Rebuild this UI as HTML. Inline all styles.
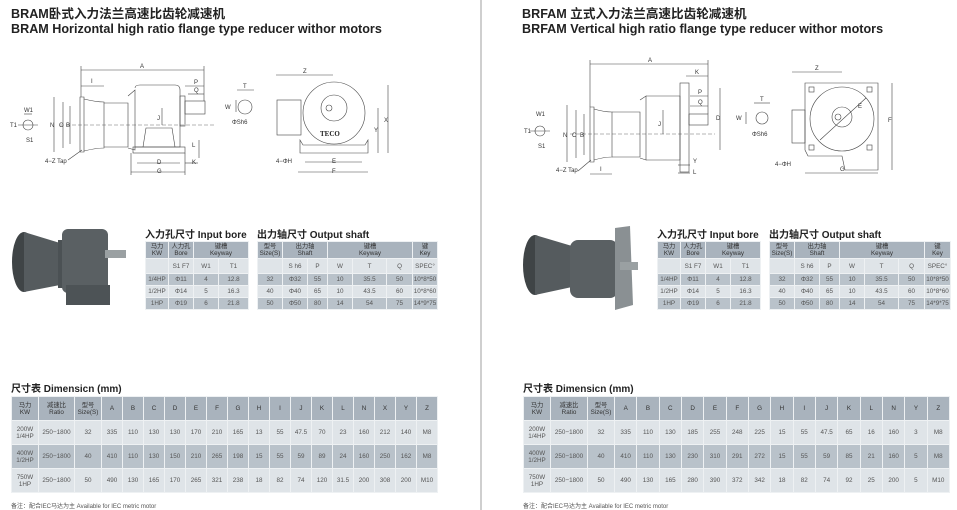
<!DOCTYPE html>
<html><head><meta charset="utf-8"><style>
*{margin:0;padding:0;box-sizing:border-box}
body{width:957px;height:510px;background:#fff;position:relative;overflow:hidden;font-family:"Liberation Sans","Noto Sans CJK SC",sans-serif;color:#333}
.t{position:absolute;font-weight:bold;font-size:12.6px;color:#222;white-space:nowrap;line-height:14px}
.h{position:absolute;font-weight:bold;font-size:10px;color:#222;white-space:nowrap}
.note{position:absolute;font-size:6px;color:#555;white-space:nowrap}
table{position:absolute;border-collapse:collapse;font-size:6.3px;color:#555;table-layout:fixed}
td{text-align:center;padding:0;line-height:7px;border:1px solid #eef1f3;overflow:hidden;white-space:nowrap}
tr.hd td{background:#a9b3bd;color:#333}
tr.lt td{background:#dfe4e8}
tr.dk td{background:#b9c2ca}
svg{position:absolute;left:0;top:0}
</style></head><body>
<div style="position:absolute;left:480px;top:0;width:2px;height:510px;background:#cfcfcf"></div>

<div class="t" style="left:11px;top:7px">BRAM卧式入力法兰高速比齿轮减速机</div>
<div class="t" style="left:11px;top:22px">BRAM Horizontal high ratio flange type reducer withor motors</div>
<div class="t" style="left:522px;top:7px">BRFAM 立式入力法兰高速比齿轮减速机</div>
<div class="t" style="left:522px;top:22px">BRFAM Vertical high ratio flange type reducer withor motors</div>

<svg width="957" height="510" viewBox="0 0 957 510" font-family="Liberation Sans, sans-serif" font-size="6" fill="none" stroke="#444" stroke-width="0.6">
<line x1="81" y1="70" x2="204" y2="70"/><line x1="81" y1="66" x2="81" y2="97"/><line x1="204" y1="66" x2="204" y2="101"/>
<text x="140" y="68" fill="#333" stroke="none">A</text>
<line x1="81" y1="86" x2="104" y2="86"/><text x="91" y="83" fill="#333" stroke="none">I</text>
<line x1="185" y1="86" x2="204" y2="86"/><text x="194" y="84" fill="#333" stroke="none">P</text>
<line x1="188" y1="94" x2="204" y2="94"/><text x="194" y="92" fill="#333" stroke="none">Q</text>
<path d="M80 97 L84 97 L84 152 L80 152 Z"/>
<path d="M84 99 Q96 102 104 102 L104 148 Q96 148 84 151"/>
<path d="M104 103 L128 103 L128 147 L104 147"/>
<path d="M128 96 L135 90 L135 150 L128 148"/>
<path d="M135 88 Q135 85 140 85 L175 85 Q180 85 180 90 L180 147 L135 147"/>
<rect x="180" y="96" width="5" height="30"/>
<rect x="185" y="101" width="20" height="13"/>
<path d="M143 147 L146 128 L172 128 L175 147"/>
<rect x="133" y="147" width="52" height="6"/>
<line x1="60" y1="125" x2="215" y2="125" stroke-dasharray="4 2" stroke-width="0.4"/>
<line x1="54" y1="97" x2="54" y2="152"/><text x="50" y="127" fill="#333" stroke="none">N</text>
<line x1="63" y1="102" x2="63" y2="148"/><text x="59" y="127" fill="#333" stroke="none">C</text>
<line x1="70" y1="106" x2="70" y2="144"/><text x="66" y="127" fill="#333" stroke="none">B</text>
<line x1="162" y1="108" x2="162" y2="125"/><text x="157" y="120" fill="#333" stroke="none">J</text>
<line x1="199" y1="140" x2="199" y2="158"/><text x="192" y="147" fill="#333" stroke="none">L</text>
<line x1="137" y1="163" x2="180" y2="163"/><text x="157" y="164" fill="#333" stroke="none">D</text>
<line x1="185" y1="163" x2="198" y2="163"/><text x="192" y="164" fill="#333" stroke="none">K</text>
<line x1="131" y1="172" x2="185" y2="172"/><text x="157" y="173" fill="#333" stroke="none">G</text>
<line x1="131" y1="153" x2="131" y2="175"/><line x1="185" y1="153" x2="185" y2="175"/>
<text x="45" y="163" fill="#333" stroke="none">4−Z Tap</text><line x1="68" y1="160" x2="82" y2="150"/>
<circle cx="28" cy="125" r="5"/><line x1="18" y1="125" x2="38" y2="125"/><line x1="24" y1="114" x2="32" y2="114"/>
<text x="24" y="112" fill="#333" stroke="none">W1</text><text x="26" y="142" fill="#333" stroke="none">S1</text><text x="10" y="127" fill="#333" stroke="none">T1</text>
<circle cx="245" cy="107" r="7"/><line x1="237" y1="90" x2="254" y2="90"/><text x="243" y="88" fill="#333" stroke="none">T</text>
<line x1="236" y1="100" x2="236" y2="112"/><text x="225" y="109" fill="#333" stroke="none">W</text>
<text x="232" y="124" fill="#333" stroke="none">ΦSh6</text>
<line x1="276" y1="75" x2="333" y2="75"/><text x="303" y="73" fill="#333" stroke="none">Z</text>
<rect x="277" y="100" width="24" height="35"/>
<circle cx="334" cy="113" r="31"/><circle cx="334" cy="108" r="13"/><circle cx="329" cy="108" r="3"/>
<path d="M300 140 L303 145 L365 145 L368 140 L368 153 L300 153 Z"/>
<text x="320" y="136" fill="#222" stroke="none" font-size="7" font-weight="bold" font-family="Liberation Serif,serif">TECO</text>
<line x1="388" y1="85" x2="388" y2="153"/><text x="384" y="122" fill="#333" stroke="none">X</text>
<line x1="378" y1="108" x2="378" y2="153"/><text x="374" y="132" fill="#333" stroke="none">Y</text>
<line x1="305" y1="162" x2="362" y2="162"/><text x="332" y="163" fill="#333" stroke="none">E</text>
<line x1="298" y1="172" x2="368" y2="172"/><text x="332" y="173" fill="#333" stroke="none">F</text>
<text x="276" y="163" fill="#333" stroke="none">4−ΦH</text>

<line x1="590" y1="64" x2="708" y2="64"/><line x1="590" y1="60" x2="590" y2="107"/><line x1="708" y1="60" x2="708" y2="114"/>
<text x="648" y="62" fill="#333" stroke="none">A</text>
<line x1="686" y1="76" x2="708" y2="76"/><text x="695" y="74" fill="#333" stroke="none">K</text>
<line x1="690" y1="96" x2="708" y2="96"/><text x="698" y="94" fill="#333" stroke="none">P</text>
<line x1="690" y1="106" x2="708" y2="106"/><text x="698" y="104" fill="#333" stroke="none">Q</text>
<path d="M590 107 L594 107 L594 162 L590 162 Z"/>
<path d="M594 109 Q604 112 612 112 L612 157 Q604 157 594 160"/>
<path d="M612 112 L640 112 L640 157 L612 157"/>
<path d="M640 100 L646 96 L646 160 L640 158"/>
<path d="M646 96 L680 96 L680 160 L646 160"/>
<rect x="680" y="83" width="9" height="89"/>
<rect x="689" y="114" width="19" height="11"/>
<line x1="570" y1="134" x2="715" y2="134" stroke-dasharray="4 2" stroke-width="0.4"/>
<line x1="720" y1="88" x2="720" y2="150"/><text x="716" y="120" fill="#333" stroke="none">D</text>
<line x1="663" y1="110" x2="663" y2="134"/><text x="658" y="126" fill="#333" stroke="none">J</text>
<line x1="567" y1="105" x2="567" y2="162"/><text x="563" y="137" fill="#333" stroke="none">N</text>
<line x1="576" y1="110" x2="576" y2="158"/><text x="572" y="137" fill="#333" stroke="none">C</text>
<line x1="584" y1="114" x2="584" y2="155"/><text x="580" y="137" fill="#333" stroke="none">B</text>
<line x1="590" y1="174" x2="612" y2="174"/><text x="600" y="171" fill="#333" stroke="none">I</text>
<line x1="678" y1="165" x2="690" y2="165"/><text x="693" y="163" fill="#333" stroke="none">Y</text>
<line x1="678" y1="173" x2="690" y2="173"/><text x="693" y="174" fill="#333" stroke="none">L</text>
<text x="556" y="172" fill="#333" stroke="none">4−Z Tap</text><line x1="578" y1="171" x2="591" y2="160"/>
<circle cx="540" cy="131" r="5"/><line x1="530" y1="131" x2="550" y2="131"/>
<text x="536" y="116" fill="#333" stroke="none">W1</text><text x="538" y="148" fill="#333" stroke="none">S1</text><text x="524" y="133" fill="#333" stroke="none">T1</text>
<circle cx="762" cy="118" r="6"/><line x1="754" y1="103" x2="770" y2="103"/><text x="760" y="101" fill="#333" stroke="none">T</text>
<line x1="746" y1="112" x2="746" y2="124"/><text x="736" y="120" fill="#333" stroke="none">W</text>
<text x="752" y="136" fill="#333" stroke="none">ΦSh6</text>
<line x1="792" y1="72" x2="842" y2="72"/><text x="815" y="70" fill="#333" stroke="none">Z</text>
<path d="M805 83 L878 83 L878 170 L845 170 L842 156 L808 156 L805 150 Z"/>
<rect x="792" y="110" width="13" height="33"/>
<circle cx="842" cy="119" r="32"/><circle cx="842" cy="117" r="10"/><circle cx="838" cy="117" r="3"/>
<line x1="820" y1="140" x2="866" y2="98"/><text x="858" y="108" fill="#333" stroke="none">E</text>
<rect x="809" y="87" width="5" height="5"/><rect x="867" y="87" width="5" height="5"/><rect x="809" y="145" width="5" height="5"/><rect x="867" y="145" width="5" height="5"/>
<line x1="892" y1="83" x2="892" y2="170"/><text x="888" y="122" fill="#333" stroke="none">F</text>
<line x1="805" y1="173" x2="878" y2="173"/><text x="840" y="171" fill="#333" stroke="none">G</text>
<text x="775" y="166" fill="#333" stroke="none">4−ΦH</text>

<g stroke="none">
<ellipse cx="24" cy="262" rx="12" ry="30" fill="#3f4446"/>
<path d="M24 232 L60 243 L60 285 L24 292 Z" fill="#555b5e"/>
<rect x="58" y="240" width="8" height="48" fill="#4b5154"/>
<rect x="62" y="229" width="46" height="64" rx="6" fill="#5a6063"/>
<rect x="66" y="285" width="44" height="20" fill="#4d5356"/>
<rect x="105" y="250" width="21" height="8" fill="#9aa0a2"/>
<ellipse cx="535" cy="265" rx="12" ry="30" fill="#3f4446"/>
<path d="M535 235 L572 246 L572 287 L535 295 Z" fill="#555b5e"/>
<rect x="570" y="240" width="48" height="58" rx="8" fill="#5a6063"/>
<path d="M615 228 L630 226 L633 305 L615 310 Z" fill="#8a9093"/>
<rect x="620" y="262" width="18" height="8" fill="#9aa0a2"/>
</g>
</svg>

<div class="h" style="left:145px;top:226px">入力孔尺寸 Input bore</div>
<div class="h" style="left:257px;top:226px">出力轴尺寸 Output shaft</div>
<div class="h" style="left:657px;top:226px">入力孔尺寸 Input bore</div>
<div class="h" style="left:769px;top:226px">出力轴尺寸 Output shaft</div>

<table style="left:145px;top:241px;width:103px">
<colgroup><col style="width:23px"><col style="width:25px"><col style="width:25px"><col style="width:30px"></colgroup>
<tr class="hd" style="height:17px"><td>马力<br>KW</td><td>人力孔<br>Bore</td><td colspan="2">键槽<br>Keyway</td></tr>
<tr class="lt" style="height:15px"><td></td><td>S1 F7</td><td>W1</td><td>T1</td></tr>
<tr class="dk" style="height:12px"><td>1/4HP</td><td>Φ11</td><td>4</td><td>12.8</td></tr>
<tr class="lt" style="height:12px"><td>1/2HP</td><td>Φ14</td><td>5</td><td>16.3</td></tr>
<tr class="dk" style="height:12px"><td>1HP</td><td>Φ19</td><td>6</td><td>21.8</td></tr>
</table>
<table style="left:257px;top:241px;width:180px">
<colgroup><col style="width:25px"><col style="width:25px"><col style="width:20px"><col style="width:25px"><col style="width:34px"><col style="width:26px"><col style="width:25px"></colgroup>
<tr class="hd" style="height:17px"><td>型号<br>Size(S)</td><td colspan="2">出力轴<br>Shaft</td><td colspan="3">键槽<br>Keyway</td><td>键<br>Key</td></tr>
<tr class="lt" style="height:15px"><td></td><td>S h6</td><td>P</td><td>W</td><td>T</td><td>Q</td><td>SPEC°</td></tr>
<tr class="dk" style="height:12px"><td>32</td><td>Φ32</td><td>55</td><td>10</td><td>35.5</td><td>50</td><td>10*8*50</td></tr>
<tr class="lt" style="height:12px"><td>40</td><td>Φ40</td><td>65</td><td>10</td><td>43.5</td><td>60</td><td>10*8*60</td></tr>
<tr class="dk" style="height:12px"><td>50</td><td>Φ50</td><td>80</td><td>14</td><td>54</td><td>75</td><td>14*9*75</td></tr>
</table>
<table style="left:657px;top:241px;width:103px">
<colgroup><col style="width:23px"><col style="width:25px"><col style="width:25px"><col style="width:30px"></colgroup>
<tr class="hd" style="height:17px"><td>马力<br>KW</td><td>人力孔<br>Bore</td><td colspan="2">键槽<br>Keyway</td></tr>
<tr class="lt" style="height:15px"><td></td><td>S1 F7</td><td>W1</td><td>T1</td></tr>
<tr class="dk" style="height:12px"><td>1/4HP</td><td>Φ11</td><td>4</td><td>12.8</td></tr>
<tr class="lt" style="height:12px"><td>1/2HP</td><td>Φ14</td><td>5</td><td>16.3</td></tr>
<tr class="dk" style="height:12px"><td>1HP</td><td>Φ19</td><td>6</td><td>21.8</td></tr>
</table>
<table style="left:769px;top:241px;width:181px">
<colgroup><col style="width:25px"><col style="width:25px"><col style="width:20px"><col style="width:25px"><col style="width:34px"><col style="width:26px"><col style="width:26px"></colgroup>
<tr class="hd" style="height:17px"><td>型号<br>Size(S)</td><td colspan="2">出力轴<br>Shaft</td><td colspan="3">键槽<br>Keyway</td><td>键<br>Key</td></tr>
<tr class="lt" style="height:15px"><td></td><td>S h6</td><td>P</td><td>W</td><td>T</td><td>Q</td><td>SPEC°</td></tr>
<tr class="dk" style="height:12px"><td>32</td><td>Φ32</td><td>55</td><td>10</td><td>35.5</td><td>50</td><td>10*8*50</td></tr>
<tr class="lt" style="height:12px"><td>40</td><td>Φ40</td><td>65</td><td>10</td><td>43.5</td><td>60</td><td>10*8*60</td></tr>
<tr class="dk" style="height:12px"><td>50</td><td>Φ50</td><td>80</td><td>14</td><td>54</td><td>75</td><td>14*9*75</td></tr>
</table>

<div class="h" style="left:11px;top:380px">尺寸表 Dimensicn (mm)</div>
<div class="h" style="left:523px;top:380px">尺寸表 Dimensicn (mm)</div>

<table style="left:11px;top:396px;width:426px">
<colgroup><col style="width:27px"><col style="width:36px"><col style="width:27px"><col span="16" style="width:21px"></colgroup>
<tr class="hd" style="height:24px"><td>马力<br>KW</td><td>减速比<br>Ratio</td><td>型号<br>Size(S)</td><td>A</td><td>B</td><td>C</td><td>D</td><td>E</td><td>F</td><td>G</td><td>H</td><td>I</td><td>J</td><td>K</td><td>L</td><td>N</td><td>X</td><td>Y</td><td>Z</td></tr>
<tr class="lt" style="height:24px"><td>200W<br>1/4HP</td><td>250−1800</td><td>32</td><td>335</td><td>110</td><td>130</td><td>130</td><td>170</td><td>210</td><td>165</td><td>13</td><td>55</td><td>47.5</td><td>70</td><td>23</td><td>160</td><td>212</td><td>140</td><td>M8</td></tr>
<tr class="dk" style="height:24px"><td>400W<br>1/2HP</td><td>250−1800</td><td>40</td><td>410</td><td>110</td><td>130</td><td>150</td><td>210</td><td>265</td><td>198</td><td>15</td><td>55</td><td>59</td><td>89</td><td>24</td><td>160</td><td>250</td><td>162</td><td>M8</td></tr>
<tr class="lt" style="height:24px"><td>750W<br>1HP</td><td>250−1800</td><td>50</td><td>490</td><td>130</td><td>165</td><td>170</td><td>265</td><td>321</td><td>238</td><td>18</td><td>82</td><td>74</td><td>120</td><td>31.5</td><td>200</td><td>308</td><td>200</td><td>M10</td></tr>
</table>
<table style="left:523px;top:396px;width:426px">
<colgroup><col style="width:27px"><col style="width:37px"><col style="width:27px"><col span="15" style="width:22.33px"></colgroup>
<tr class="hd" style="height:24px"><td>马力<br>KW</td><td>减速比<br>Ratio</td><td>型号<br>Size(S)</td><td>A</td><td>B</td><td>C</td><td>D</td><td>E</td><td>F</td><td>G</td><td>H</td><td>I</td><td>J</td><td>K</td><td>L</td><td>N</td><td>Y</td><td>Z</td></tr>
<tr class="lt" style="height:24px"><td>200W<br>1/4HP</td><td>250−1800</td><td>32</td><td>335</td><td>110</td><td>130</td><td>185</td><td>255</td><td>248</td><td>225</td><td>15</td><td>55</td><td>47.5</td><td>65</td><td>16</td><td>160</td><td>3</td><td>M8</td></tr>
<tr class="dk" style="height:24px"><td>400W<br>1/2HP</td><td>250−1800</td><td>40</td><td>410</td><td>110</td><td>130</td><td>230</td><td>310</td><td>291</td><td>272</td><td>15</td><td>55</td><td>59</td><td>85</td><td>21</td><td>160</td><td>5</td><td>M8</td></tr>
<tr class="lt" style="height:24px"><td>750W<br>1HP</td><td>250−1800</td><td>50</td><td>490</td><td>130</td><td>165</td><td>280</td><td>390</td><td>372</td><td>342</td><td>18</td><td>82</td><td>74</td><td>92</td><td>25</td><td>200</td><td>5</td><td>M10</td></tr>
</table>

<div class="note" style="left:11px;top:501px">备注：配合IEC马达为主 Available for IEC metric motor</div>
<div class="note" style="left:523px;top:501px">备注：配合IEC马达为主 Available for IEC metric motor</div>
</body></html>
